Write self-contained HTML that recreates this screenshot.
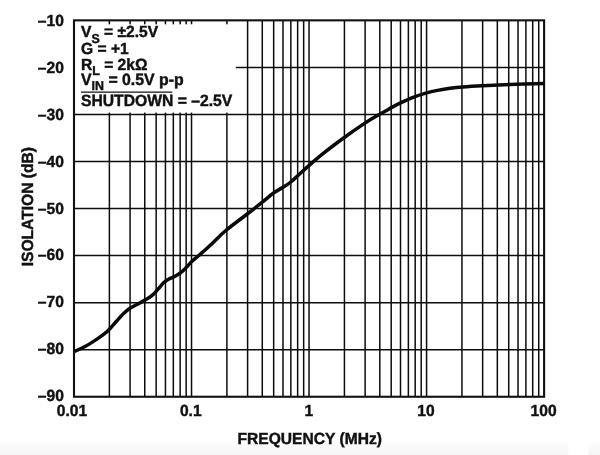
<!DOCTYPE html>
<html><head><meta charset="utf-8"><title>Isolation vs Frequency</title>
<style>html,body{margin:0;padding:0;background:#fff}body{width:600px;height:455px;overflow:hidden}svg{display:block;will-change:transform;opacity:.999}text{text-rendering:geometricPrecision;font-family:"Liberation Sans",sans-serif;font-weight:bold;fill:#111}</style></head><body>
<svg width="600" height="455" viewBox="0 0 600 455">
<defs><linearGradient id="bg" x1="0" y1="0" x2="0" y2="1"><stop offset="0" stop-color="#ffffff"/><stop offset="0.6" stop-color="#f8f8f8"/><stop offset="1" stop-color="#f5f5f5"/></linearGradient></defs>
<rect x="0" y="0" width="600" height="455" fill="#ffffff"/>
<rect x="0" y="441" width="600" height="14" fill="url(#bg)"/>
<rect x="568.5" y="440" width="20" height="15" fill="#ffffff"/>
<g stroke="#0c0c0c" stroke-width="1.5" fill="none">
<line x1="109.38" y1="20.35" x2="109.38" y2="396.75"/>
<line x1="130.07" y1="20.35" x2="130.07" y2="396.75"/>
<line x1="144.76" y1="20.35" x2="144.76" y2="396.75"/>
<line x1="156.15" y1="20.35" x2="156.15" y2="396.75"/>
<line x1="165.45" y1="20.35" x2="165.45" y2="396.75"/>
<line x1="173.32" y1="20.35" x2="173.32" y2="396.75"/>
<line x1="180.14" y1="20.35" x2="180.14" y2="396.75"/>
<line x1="186.15" y1="20.35" x2="186.15" y2="396.75"/>
<line x1="191.53" y1="20.35" x2="191.53" y2="396.75"/>
<line x1="226.90" y1="20.35" x2="226.90" y2="396.75"/>
<line x1="247.60" y1="20.35" x2="247.60" y2="396.75"/>
<line x1="262.28" y1="20.35" x2="262.28" y2="396.75"/>
<line x1="273.67" y1="20.35" x2="273.67" y2="396.75"/>
<line x1="282.98" y1="20.35" x2="282.98" y2="396.75"/>
<line x1="290.85" y1="20.35" x2="290.85" y2="396.75"/>
<line x1="297.66" y1="20.35" x2="297.66" y2="396.75"/>
<line x1="303.67" y1="20.35" x2="303.67" y2="396.75"/>
<line x1="309.05" y1="20.35" x2="309.05" y2="396.75"/>
<line x1="344.43" y1="20.35" x2="344.43" y2="396.75"/>
<line x1="365.12" y1="20.35" x2="365.12" y2="396.75"/>
<line x1="379.81" y1="20.35" x2="379.81" y2="396.75"/>
<line x1="391.20" y1="20.35" x2="391.20" y2="396.75"/>
<line x1="400.50" y1="20.35" x2="400.50" y2="396.75"/>
<line x1="408.37" y1="20.35" x2="408.37" y2="396.75"/>
<line x1="415.19" y1="20.35" x2="415.19" y2="396.75"/>
<line x1="421.20" y1="20.35" x2="421.20" y2="396.75"/>
<line x1="426.58" y1="20.35" x2="426.58" y2="396.75"/>
<line x1="461.95" y1="20.35" x2="461.95" y2="396.75"/>
<line x1="482.65" y1="20.35" x2="482.65" y2="396.75"/>
<line x1="497.33" y1="20.35" x2="497.33" y2="396.75"/>
<line x1="508.72" y1="20.35" x2="508.72" y2="396.75"/>
<line x1="518.03" y1="20.35" x2="518.03" y2="396.75"/>
<line x1="525.90" y1="20.35" x2="525.90" y2="396.75"/>
<line x1="532.71" y1="20.35" x2="532.71" y2="396.75"/>
<line x1="538.72" y1="20.35" x2="538.72" y2="396.75"/>
<line x1="74.00" y1="67.40" x2="544.10" y2="67.40"/>
<line x1="74.00" y1="114.45" x2="544.10" y2="114.45"/>
<line x1="74.00" y1="161.50" x2="544.10" y2="161.50"/>
<line x1="74.00" y1="208.55" x2="544.10" y2="208.55"/>
<line x1="74.00" y1="255.60" x2="544.10" y2="255.60"/>
<line x1="74.00" y1="302.65" x2="544.10" y2="302.65"/>
<line x1="74.00" y1="349.70" x2="544.10" y2="349.70"/>
</g>
<rect x="74.50" y="24.3" width="161.30" height="88.30" fill="#fff"/>
<rect x="74.00" y="20.35" width="470.10" height="376.40" fill="none" stroke="#111" stroke-width="2.1"/>
<path d="M74.6,351.5 C76.4,350.6 81.8,348.3 85.4,346.3 C89.0,344.3 93.0,341.7 96.2,339.6 C99.4,337.5 102.4,335.3 104.6,333.6 C106.8,331.9 107.5,331.2 109.4,329.2 C111.3,327.2 113.9,324.1 116.2,321.5 C118.5,318.9 120.8,316.1 123.1,313.9 C125.4,311.7 127.6,309.9 130.0,308.3 C132.4,306.7 135.0,305.4 137.7,304.0 C140.4,302.6 143.4,301.2 146.0,299.6 C148.6,298.0 151.0,296.4 153.1,294.6 C155.2,292.8 156.7,290.6 158.5,288.6 C160.3,286.6 162.1,284.2 163.8,282.6 C165.5,281.1 166.7,280.3 168.5,279.3 C170.3,278.3 172.5,277.6 174.6,276.5 C176.7,275.4 178.9,274.1 180.8,272.6 C182.7,271.1 184.4,269.3 186.2,267.5 C188.0,265.7 189.4,263.8 191.5,261.8 C193.6,259.8 196.1,257.8 198.5,255.7 C200.9,253.6 203.8,251.2 206.2,249.0 C208.6,246.8 209.8,245.6 213.2,242.4 C216.6,239.2 220.7,234.7 226.4,230.0 C232.1,225.3 241.3,218.6 247.3,214.0 C253.3,209.4 258.0,205.6 262.3,202.2 C266.6,198.8 269.6,195.9 273.0,193.4 C276.4,190.9 280.0,189.2 283.0,187.3 C286.0,185.4 288.2,184.1 290.8,182.0 C293.4,179.9 295.5,177.7 298.5,175.0 C301.5,172.3 304.8,169.2 308.9,165.6 C313.0,162.0 317.4,158.1 323.3,153.4 C329.2,148.7 337.3,142.6 344.3,137.5 C351.3,132.4 359.3,126.9 365.3,122.9 C371.3,119.0 376.2,116.3 380.5,113.8 C384.8,111.3 387.8,109.7 391.0,107.9 C394.2,106.1 396.4,104.9 400.0,103.2 C403.6,101.5 408.3,99.2 412.5,97.6 C416.7,96.0 420.8,94.6 425.0,93.4 C429.2,92.2 433.3,91.2 437.5,90.4 C441.7,89.6 445.8,88.9 450.0,88.3 C454.2,87.7 457.1,87.3 462.5,86.9 C467.9,86.5 474.6,86.1 482.5,85.7 C490.4,85.3 499.8,84.9 510.0,84.5 C520.2,84.1 538.3,83.6 544.0,83.4" fill="none" stroke="#0a0a0a" stroke-width="3.5" stroke-linejoin="round" stroke-linecap="butt"/>
<text transform="translate(63.90,26.00) scale(1,1.035)" font-size="15.6" text-anchor="end" stroke="#111" stroke-width="0.42">–10</text>
<text transform="translate(63.90,72.89) scale(1,1.035)" font-size="15.6" text-anchor="end" stroke="#111" stroke-width="0.42">–20</text>
<text transform="translate(63.90,119.78) scale(1,1.035)" font-size="15.6" text-anchor="end" stroke="#111" stroke-width="0.42">–30</text>
<text transform="translate(63.90,166.67) scale(1,1.035)" font-size="15.6" text-anchor="end" stroke="#111" stroke-width="0.42">–40</text>
<text transform="translate(63.90,213.56) scale(1,1.035)" font-size="15.6" text-anchor="end" stroke="#111" stroke-width="0.42">–50</text>
<text transform="translate(63.90,260.45) scale(1,1.035)" font-size="15.6" text-anchor="end" stroke="#111" stroke-width="0.42">–60</text>
<text transform="translate(63.90,307.34) scale(1,1.035)" font-size="15.6" text-anchor="end" stroke="#111" stroke-width="0.42">–70</text>
<text transform="translate(63.90,354.23) scale(1,1.035)" font-size="15.6" text-anchor="end" stroke="#111" stroke-width="0.42">–80</text>
<text transform="translate(63.90,401.12) scale(1,1.035)" font-size="15.6" text-anchor="end" stroke="#111" stroke-width="0.42">–90</text>
<text transform="translate(71.90,416.00) scale(1,1.035)" font-size="15.6" text-anchor="middle" stroke="#111" stroke-width="0.42">0.01</text>
<text transform="translate(190.72,416.00) scale(1,1.035)" font-size="15.6" text-anchor="middle" stroke="#111" stroke-width="0.42">0.1</text>
<text transform="translate(308.75,416.00) scale(1,1.035)" font-size="15.6" text-anchor="middle" stroke="#111" stroke-width="0.42">1</text>
<text transform="translate(425.88,416.00) scale(1,1.035)" font-size="15.6" text-anchor="middle" stroke="#111" stroke-width="0.42">10</text>
<text transform="translate(543.60,416.00) scale(1,1.035)" font-size="15.6" text-anchor="middle" stroke="#111" stroke-width="0.42">100</text>
<text transform="translate(309.70,444.10) scale(1,1.035)" font-size="15.6" text-anchor="middle" stroke="#111" stroke-width="0.42">FREQUENCY (MHz)</text>
<text transform="translate(32.60,206.70) rotate(-90) scale(1,1.035)" font-size="15.6" text-anchor="middle" stroke="#111" stroke-width="0.42">ISOLATION (dB)</text>
<text transform="translate(81.00,37.40) scale(1,1.035)" font-size="15.6" text-anchor="start" stroke="#111" stroke-width="0.42">V<tspan font-size="12.4" dy="5.1">S</tspan><tspan font-size="15.6" dy="-5.1"> = ±2.5V</tspan></text>
<text transform="translate(81.00,53.70) scale(1,1.035)" font-size="15.6" text-anchor="start" stroke="#111" stroke-width="0.42">G = +1</text>
<text transform="translate(81.00,69.50) scale(1,1.035)" font-size="15.6" text-anchor="start" stroke="#111" stroke-width="0.42">R<tspan font-size="12.4" dy="5.1">L</tspan><tspan font-size="15.6" dy="-5.1"> = 2kΩ</tspan></text>
<text transform="translate(81.00,85.00) scale(1,1.035)" font-size="15.85" text-anchor="start" stroke="#111" stroke-width="0.42">V<tspan font-size="12.4" dy="5.1">IN</tspan><tspan font-size="15.85" dy="-5.1"> = 0.5V p-p</tspan></text>
<text transform="translate(81.00,105.60) scale(1,1.035)" font-size="15.7" text-anchor="start" stroke="#111" stroke-width="0.42">SHUTDOWN = –2.5V</text>
<line x1="81" y1="92.2" x2="172.3" y2="92.2" stroke="#111" stroke-width="1.3"/>
</svg></body></html>
